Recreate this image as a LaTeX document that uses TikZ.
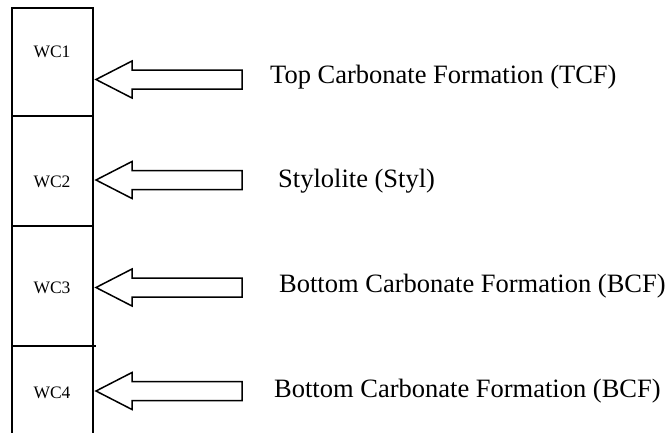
\documentclass[tikz,border=0pt]{standalone}
\usepackage{fontspec}
\setmainfont{Liberation Serif}
\begin{document}
\begin{tikzpicture}[x=1pt,y=-1pt,line join=miter,
  colline/.style={line width=1.5pt,black},
  wclabel/.style={font=\fontsize{17.5}{20}\selectfont,anchor=base,inner sep=0pt},
  txtlabel/.style={font=\fontsize{26.5}{30}\selectfont,anchor=base west,inner sep=0pt},
  blockarrow/.style={draw=black,line width=1.5pt,fill=white}]
\useasboundingbox (0,0) rectangle (670,432);
% column
\coordinate (ctl) at (12,8);
\coordinate (ctr) at (93,8);
\coordinate (cbl) at (12,434);
\coordinate (cbr) at (93,434);
\draw[colline] (cbl) -- (ctl) -- (ctr) -- (cbr);
\coordinate (d1l) at (12,116); \coordinate (d1r) at (93,116);
\coordinate (d2l) at (12,226); \coordinate (d2r) at (93,226);
\coordinate (d3l) at (12,346); \coordinate (d3r) at (96,346);
\draw[colline] (d1l) -- (d1r);
\draw[colline] (d2l) -- (d2r);
\draw[colline] (d3l) -- (d3r);
% cell labels
\node[wclabel] (wc1) at (52,57) {WC1};
\node[wclabel] (wc2) at (52,187) {WC2};
\node[wclabel] (wc3) at (52,293) {WC3};
\node[wclabel] (wc4) at (52,398) {WC4};
% arrows
\foreach \n/\y in {1/79.5, 2/180, 3/287.5, 4/391} {
  \coordinate (tip\n) at (96,\y);
  \draw[blockarrow] (tip\n) -- ++(36,-18.5) -- ++(0,9) -- ++(110,0) -- ++(0,19) -- ++(-110,0) -- ++(0,9) -- cycle;
}
% texts
\node[txtlabel] (t1) at (270,83) {Top Carbonate Formation (TCF)};
\node[txtlabel] (t2) at (278,187) {Stylolite (Styl)};
\node[txtlabel] (t3) at (279,292) {Bottom Carbonate Formation (BCF)};
\node[txtlabel] (t4) at (274,397) {Bottom Carbonate Formation (BCF)};
\end{tikzpicture}
\end{document}
